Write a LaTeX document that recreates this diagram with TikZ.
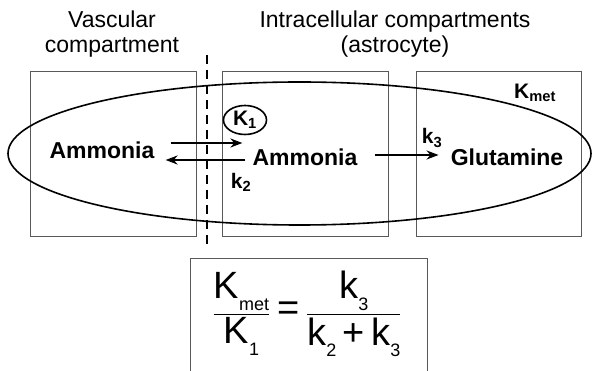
\documentclass[tikz,border=0pt]{standalone}
\usepackage{amsmath}
\usepackage{fontspec}
\setmainfont{Liberation Sans}
\usetikzlibrary{positioning, arrows.meta, shapes.geometric}
\newcommand\eqsub[1]{\raisebox{-.3em}{\fontsize{18}{20}\selectfont#1}}

\begin{document}
\begin{tikzpicture}[x=1pt, y=-1pt,
    every node/.style={inner sep=0pt, font=\fontsize{23}{25}\selectfont},
    comp/.style={draw=black!65, line width=0.9pt},
    mol/.style={font=\fontsize{23}{25}\selectfont\bfseries},
    rate/.style={font=\fontsize{21}{24}\selectfont\bfseries},
    flow/.style={-{Stealth[length=12pt, width=9pt]}, line width=2pt}]
   \useasboundingbox (0,0) rectangle (592,371);

   % compartments
   \draw[comp] (30,71) rectangle (196,236);
   \draw[comp] (222,71) rectangle (388,236);
   \draw[comp] (416,71) rectangle (581,236);
   \draw[comp] (190,258) rectangle (427,380);

   % titles
   \node[align=center] (vasc) at (112,34) {Vascular\\compartment};
   \node[align=center] (intra) at (395,34) {Intracellular compartments\\(astrocyte)};

   % membrane and whole K_met region
   \draw[line width=2.2pt, dash pattern=on 9pt off 6pt] (207,55) -- (207,247);
   \draw[line width=1.6pt] (299.5,153.5) ellipse [x radius=291.5, y radius=71.5];

   % metabolites
   \node[mol] (ammV) at (102,150) {Ammonia};
   \node[mol] (ammI) at (305,157) {Ammonia};
   \node[mol] (glut) at (507,157) {Glutamine};

   % rate constants
   \node[rate, ellipse, draw, line width=1.6pt, minimum width=43pt, minimum height=29pt]
      (K1) at (245,120) {K\textsubscript{1}};
   \node[rate] (k2) at (241,182) {k\textsubscript{2}};
   \node[rate] (k3) at (432,138) {k\textsubscript{3}};
   \node[rate] (Kmet) at (535,93) {K\textsubscript{met}};

   \draw[flow, shorten <=16pt, shorten >=10pt] ([yshift=7pt]ammV.east) -- ([yshift=14pt]ammI.west);
   \draw[flow, shorten <=7pt, shorten >=11pt] ([yshift=-3pt]ammI.west) -- ([yshift=-10pt]ammV.east);
   \draw[flow, shorten <=17pt, shorten >=12pt] ([yshift=2pt]ammI.east) -- ([yshift=2pt]glut.west);

   % relation between the constants
   \node[font=\fontsize{38}{42}\selectfont] (eq) at (307,314)
      {$\dfrac{\text{K\eqsub{met}}}{\text{K\eqsub{1}}} \mathrel{\text{=}}
        \dfrac{\text{k\eqsub{3}}}{\text{k\eqsub{2}\,+\,k\eqsub{3}}}$};
\end{tikzpicture}
\end{document}
